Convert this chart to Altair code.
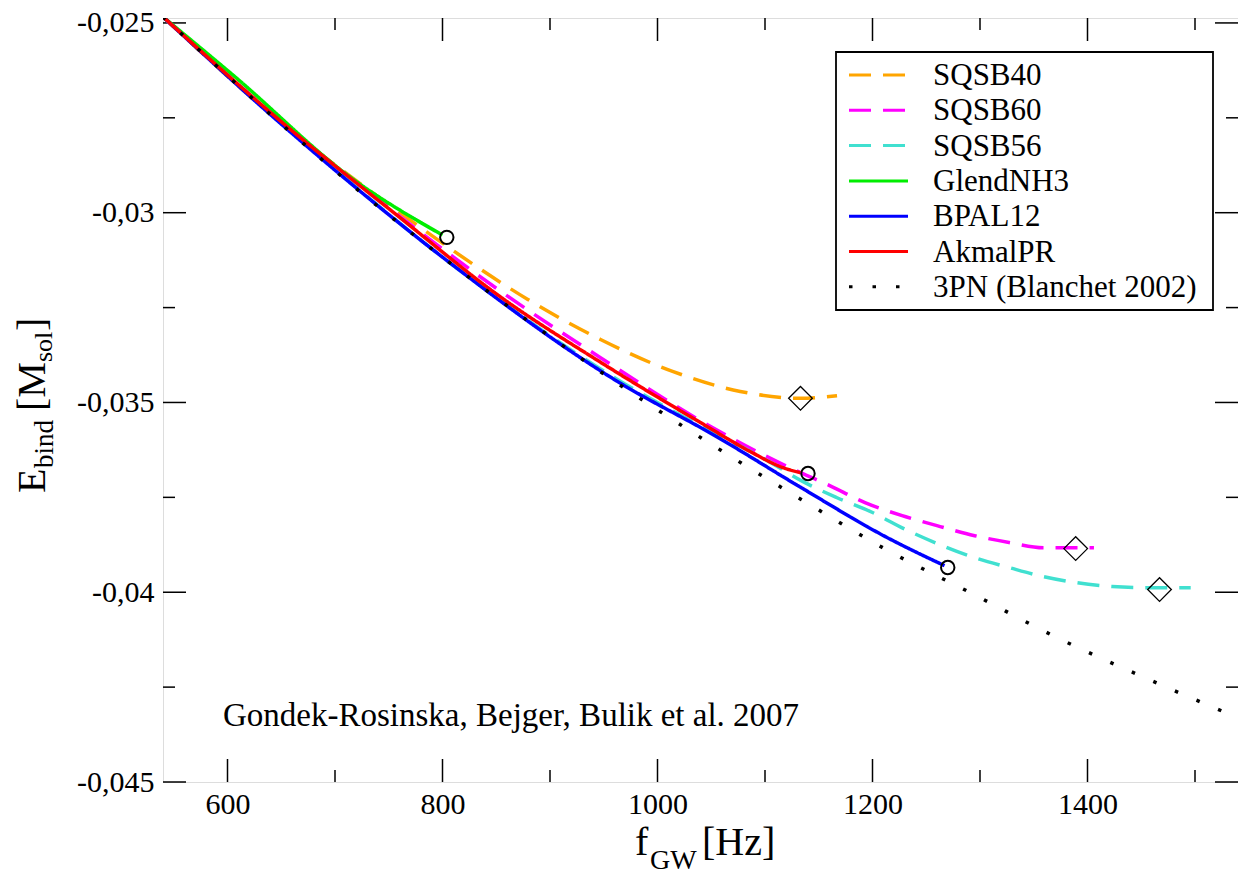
import altair as alt
import pandas as pd

FONT = "Liberation Serif"

# ---------------- data ----------------
series_names = ["SQSB40", "SQSB60", "SQSB56", "GlendNH3", "BPAL12", "AkmalPR", "3PN (Blanchet 2002)"]
series_colors = ["#FFA500", "#FF00FF", "#40E0D0", "#00EE00", "#0000FF", "#FF0000", "#000000"]
series_dashes = [[22, 12], [22, 12], [22, 12], [1, 0], [1, 0], [1, 0], [3.5, 20]]

sqsb40_f = [540, 647, 760, 812, 879, 947, 1014, 1077, 1133, 1167]
sqsb40_E = [-0.02484, -0.02756, -0.02999, -0.03104, -0.03228, -0.03334, -0.03418, -0.03471, -0.03489, -0.03482]

sqsb60_f = [540, 647, 760, 853, 947, 1040, 1133, 1158, 1193, 1231, 1263, 1295, 1327, 1359, 1406]
sqsb60_E = [-0.02484, -0.02753, -0.03009, -0.03205, -0.03382, -0.03548, -0.03685, -0.03716, -0.03764,
            -0.03801, -0.03827, -0.03851, -0.03869, -0.03883, -0.03883]

sqsb56_f = [540, 647, 805, 963, 1040, 1104, 1135, 1167, 1200, 1231, 1263, 1295, 1327, 1359, 1390, 1423, 1454, 1496]
sqsb56_E = [-0.02484, -0.02756, -0.03128, -0.03440, -0.03562, -0.03656, -0.03708, -0.03751, -0.03790,
            -0.03835, -0.03875, -0.03909, -0.03935, -0.03959, -0.03975, -0.03985, -0.03988, -0.03988]

glend_f = [540, 607, 714, 800]
glend_E = [-0.02484, -0.02642, -0.02906, -0.03059]

bpal_f = [540, 647, 805, 963, 1055, 1134, 1213, 1267]
bpal_E = [-0.02484, -0.02759, -0.03128, -0.03445, -0.03590, -0.03725, -0.03855, -0.03930]

akmal_f = [540, 647, 760, 853, 947, 1040, 1086, 1117, 1133]
akmal_E = [-0.02484, -0.02753, -0.03012, -0.03220, -0.03394, -0.03553, -0.03629, -0.03672, -0.03685]

pn3_f = [540, 594, 647, 726, 805, 884, 963, 1055, 1134, 1213, 1293, 1372, 1458, 1540]
pn3_E = [-0.02484, -0.02624, -0.02759, -0.02951, -0.03128, -0.03294, -0.03450, -0.03619, -0.03756,
         -0.03888, -0.04004, -0.04120, -0.04231, -0.04331]

# end-point markers
circle_f = [804, 1140, 1270]
circle_E = [-0.03065, -0.03687, -0.03935]
diamond_f = [1133, 1389, 1467]
diamond_E = [-0.03489, -0.03885, -0.03993]

# axis ticks
x_major = [600, 800, 1000, 1200, 1400]
x_minor = [700, 900, 1100, 1300, 1500]
y_major = [-0.045, -0.04, -0.035, -0.03, -0.025]
y_minor = [-0.0425, -0.0375, -0.0325, -0.0275]

annotation = "Gondek-Rosinska, Bejger, Bulik et al. 2007"

# ---------------- build tables ----------------
all_f = [sqsb40_f, sqsb60_f, sqsb56_f, glend_f, bpal_f, akmal_f, pn3_f]
all_E = [sqsb40_E, sqsb60_E, sqsb56_E, glend_E, bpal_E, akmal_E, pn3_E]
rows = []
for name, fs, es in zip(series_names, all_f, all_E):
    for f, e in zip(fs, es):
        rows.append({"series": name, "f": f, "E": e})
lines_df = pd.DataFrame(rows)

W, H = 1075, 764

xscale = alt.Scale(domain=[540, 1540], nice=False, zero=False)
yscale = alt.Scale(domain=[-0.045, -0.02487], nice=False, zero=False)

xaxis = alt.Axis(values=x_major, title=None, grid=False, ticks=False, tickSize=0, domain=False,
                 labelFont=FONT, labelFontSize=30, labelColor="black", labelPadding=7,
                 labelOverlap=False, labelFlush=False, format="d")
yaxis = alt.Axis(values=y_major, title=None, grid=False, ticks=False, tickSize=0, domain=False,
                 labelFont=FONT, labelFontSize=30, labelColor="black", labelPadding=9,
                 labelOverlap=False, labelFlush=False,
                 labelExpr="replace(toString(datum.value), '.', ',')")


def X():
    return alt.X("f:Q", scale=xscale, axis=xaxis)


def Y():
    return alt.Y("E:Q", scale=yscale, axis=yaxis)


lines = alt.Chart(lines_df).mark_line(strokeWidth=3.5, clip=True, interpolate="monotone").encode(
    x=X(), y=Y(),
    color=alt.Color("series:N", scale=alt.Scale(domain=series_names, range=series_colors),
                    legend=None, sort=series_names),
    strokeDash=alt.StrokeDash("series:N", scale=alt.Scale(domain=series_names, range=series_dashes),
                              legend=None, sort=series_names),
)

circles = alt.Chart(pd.DataFrame({"f": circle_f, "E": circle_E})).mark_point(
    shape="circle", size=180, filled=False, color="black", strokeWidth=2, opacity=1
).encode(x=X(), y=Y())

diamonds = alt.Chart(pd.DataFrame({"f": diamond_f, "E": diamond_E})).mark_point(
    shape="diamond", size=560, filled=False, color="black", strokeWidth=1.3, opacity=1
).encode(x=X(), y=Y())


# inward ticks
def xticks(vals, length):
    df = pd.DataFrame({"f": vals})
    bottom = alt.Chart(df).mark_rule(color="black", strokeWidth=1.5).encode(
        x=X(), y=alt.value(H), y2=alt.value(H - length))
    top = alt.Chart(df).mark_rule(color="black", strokeWidth=1.5).encode(
        x=X(), y=alt.value(0), y2=alt.value(length))
    return [bottom, top]


def yticks(vals, length):
    df = pd.DataFrame({"E": vals})
    left = alt.Chart(df).mark_rule(color="black", strokeWidth=1.5).encode(
        y=Y(), x=alt.value(0), x2=alt.value(length))
    right = alt.Chart(df).mark_rule(color="black", strokeWidth=1.5).encode(
        y=Y(), x=alt.value(W), x2=alt.value(W - length))
    return [left, right]


def txt(s, x, y, size, angle=0, align="left", baseline="alphabetic"):
    return alt.Chart(pd.DataFrame({"t": [s]})).mark_text(
        font=FONT, fontSize=size, color="black", align=align, baseline=baseline, angle=angle
    ).encode(x=alt.value(x), y=alt.value(y), text="t:N")


texts = [
    txt(annotation, 60, 708, 33),
    # x title: f_GW[Hz]
    txt("f", 472, 837, 40),
    txt("GW", 487, 851, 28),
    txt("[Hz]", 539, 837, 40),
    # y title: E_bind [M_sol]
    txt("E", -118, 475, 40, angle=270),
    txt("bind", -110, 450, 27, angle=270),
    txt("[M", -118, 393, 40, angle=270),
    txt("sol", -111, 344, 26, angle=270),
    txt("]", -118, 313, 40, angle=270),
]

# legend (drawn by hand so that its rows match the reference spacing)
LX0, LX1, LY0, LY1 = 673, 1050, 34, 292
legend_layers = [
    alt.Chart(pd.DataFrame({"t": [0]})).mark_rect(fill="white", stroke="black", strokeWidth=1.8).encode(
        x=alt.value(LX0), x2=alt.value(LX1), y=alt.value(LY0), y2=alt.value(LY1))
]
for i, (name, col, dash) in enumerate(zip(series_names, series_colors, series_dashes)):
    ry = 57 + i * 35.3
    legend_layers.append(
        alt.Chart(pd.DataFrame({"t": [name]})).mark_rule(color=col, strokeWidth=3, strokeDash=dash).encode(
            x=alt.value(686), x2=alt.value(745), y=alt.value(ry))
    )
    legend_layers.append(txt(name, 770, ry + 1, 31, baseline="middle"))

layers = xticks(x_major, 23) + xticks(x_minor, 12) + yticks(y_major, 23) + yticks(y_minor, 12)
layers += [lines, circles, diamonds] + texts + legend_layers

chart = alt.layer(*layers).properties(
    width=W, height=H,
    autosize=alt.AutoSizeParams(type="none"),
    padding={"left": 163, "top": 18, "right": 0, "bottom": 92},
).configure_view(stroke="black", strokeWidth=2).configure(background="white")

chart.save("out.html", embed_options={"renderer": "svg", "actions": False})
